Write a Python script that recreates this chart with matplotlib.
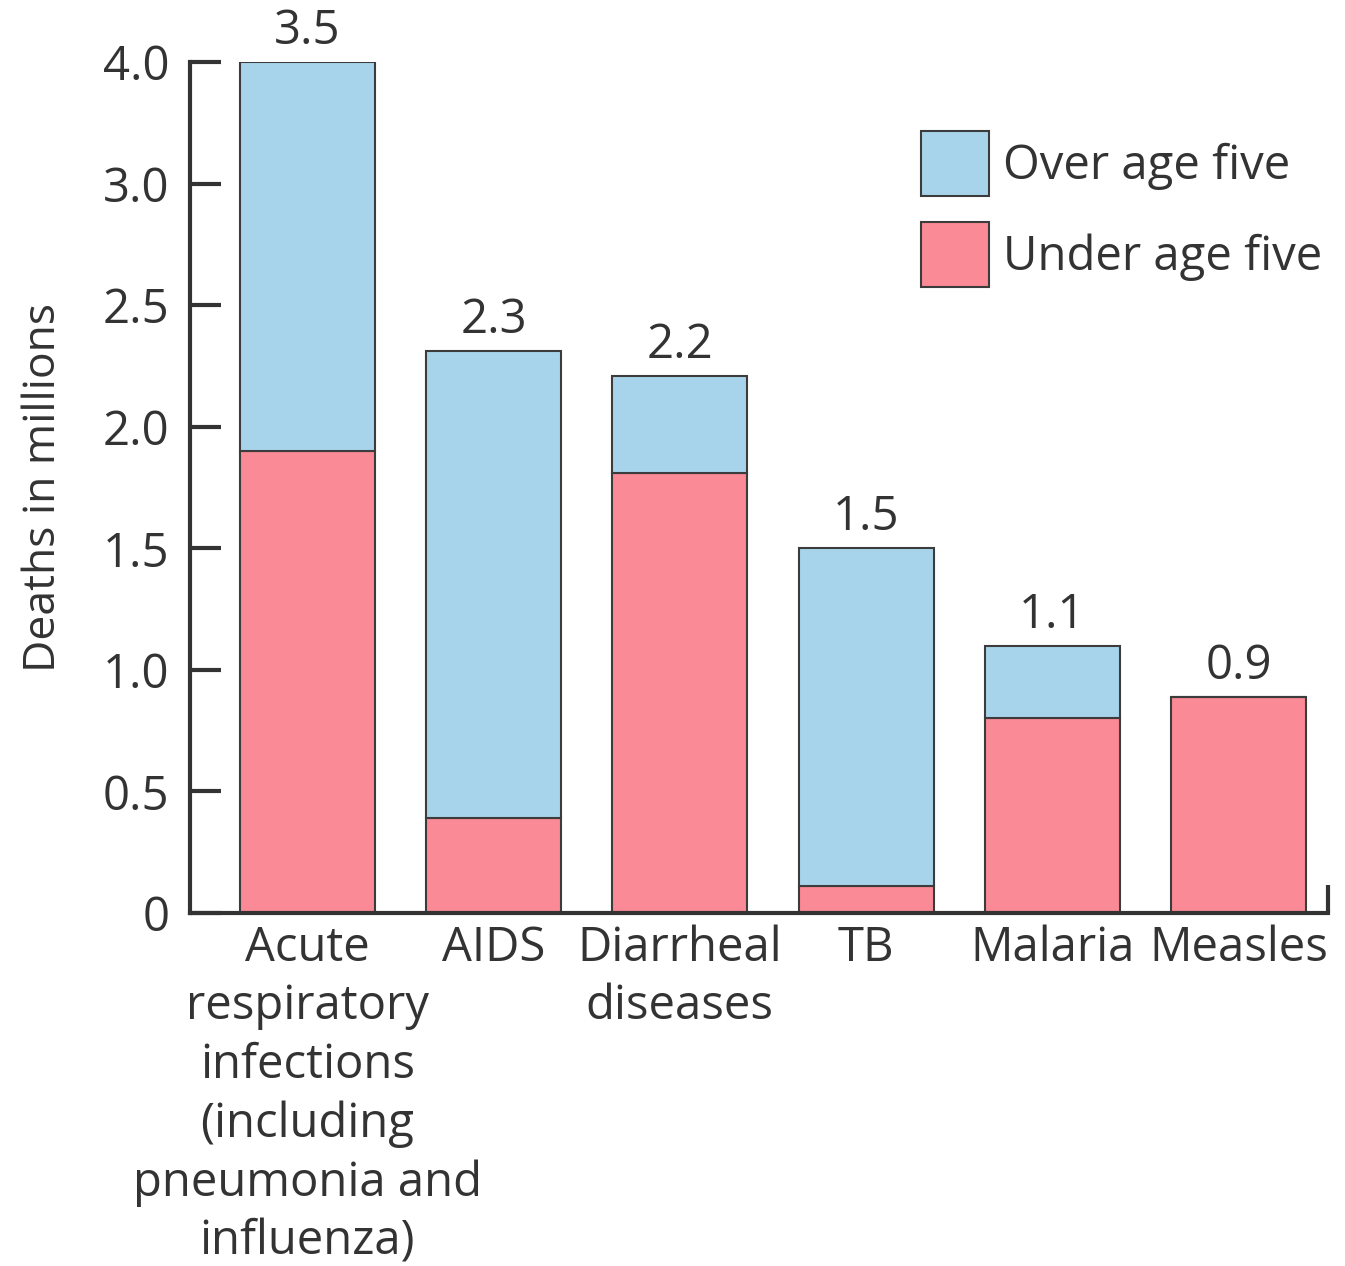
import matplotlib
matplotlib.use("Agg")
import matplotlib.pyplot as plt
import numpy as np

categories = ["Acute\nrespiratory\ninfections\n(including\npneumonia and\ninfluenza)",
              "AIDS", "Diarrheal\ndiseases", "TB", "Malaria", "Measles"]
under_five = [1.9, 0.39, 1.81, 0.11, 0.8, 0.89]
totals = [3.5, 2.31, 2.21, 1.5, 1.1, 0.89]
total_labels = ["3.5", "2.3", "2.2", "1.5", "1.1", "0.9"]
over_five = [t - u for t, u in zip(totals, under_five)]
ytick_values = [0, 0.5, 1.0, 1.5, 2.0, 2.5, 3.0, 3.5]
ytick_labels = ["0", "0.5", "1.0", "1.5", "2.0", "2.5", "3.0", "4.0"]

blue = "#A7D4EA"
pink = "#FA8A95"
edge = "#3c3c3c"
textc = "#333333"

plt.rcParams['font.family'] = ['Open Sans', 'DejaVu Sans']
fs = 34

W, H = 1345, 1266
fig = plt.figure(figsize=(W / 100, H / 100), dpi=100)
ax = fig.add_axes([190 / W, 1 - 913 / H, (1328 - 190) / W, (913 - 62) / H])

x = np.arange(len(categories))
bw = 0.725
ax.bar(x, under_five, bw, color=pink, edgecolor=edge, linewidth=1.5, label="Under age five", zorder=2)
ax.bar(x, over_five, bw, bottom=under_five, color=blue, edgecolor=edge, linewidth=1.5, label="Over age five", zorder=2)

for xi, t, lab in zip(x, totals, total_labels):
    ax.annotate(lab, (xi, t), xytext=(0, 5), textcoords="offset points",
                ha="center", va="bottom", fontsize=fs, color=textc, clip_on=False)

ax.set_xlim(-0.631, 5.481)
ax.set_ylim(0, 3.5)
ax.set_yticks(ytick_values)
ax.set_yticklabels(ytick_labels)
ax.set_xticks(x)
ax.set_xticklabels(categories, linespacing=1.31)
ax.tick_params(axis="y", direction="in", length=22, width=3, color=textc,
               labelsize=fs, labelcolor=textc, pad=15)
ax.tick_params(axis="x", length=0, labelsize=fs, labelcolor=textc, pad=8)
for s in ["top", "right"]:
    ax.spines[s].set_visible(False)
for s in ["left", "bottom"]:
    ax.spines[s].set_linewidth(3)
    ax.spines[s].set_color(textc)
ax.spines["left"].set_zorder(3)
# small end mark at right of baseline
ax.plot([1, 1], [0, 28 / (913 - 62)], transform=ax.transAxes, color=textc,
        lw=3, clip_on=False, solid_capstyle="butt")

ax.set_ylabel("Deaths in millions", fontsize=32, color=textc, labelpad=26)

handles, labels = ax.get_legend_handles_labels()
leg = fig.legend(handles[::-1], labels[::-1], loc="upper left",
                 bbox_to_anchor=(921 / W, 1 - 131 / H), frameon=False,
                 fontsize=fs, handlelength=1.44, handleheight=1.74,
                 handletextpad=0.3, labelspacing=0.55, borderpad=0, borderaxespad=0)
for t in leg.get_texts():
    t.set_color(textc)

fig.savefig("out.png", dpi=100)
